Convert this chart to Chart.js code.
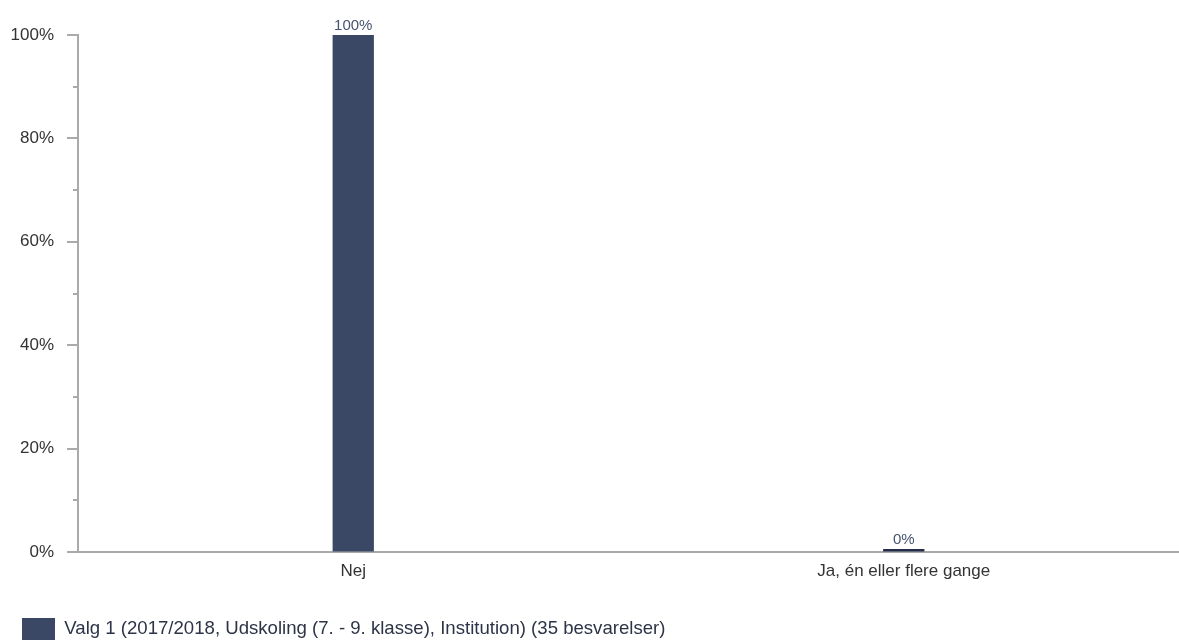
<!DOCTYPE html>
<html>
<head>
<meta charset="utf-8">
<script src="https://cdn.jsdelivr.net/npm/chart.js@4"></script>
<style>
  html, body { margin: 0; padding: 0; background: #fff; overflow: hidden; }
  #wrap { width: 1179px; height: 640px; position: relative; }
</style>
</head>
<body>
<div id="wrap"><canvas id="barChart"></canvas></div>
<script>
const categories = ["Nej", "Ja, én eller flere gange"];
const values = [100, 0];
const seriesLabel = "Valg 1 (2017/2018, Udskoling (7. - 9. klasse), Institution) (35 besvarelser)";
const yTicks = [0, 20, 40, 60, 80, 100];

Chart.defaults.font.family = "'Liberation Sans', Arial, sans-serif";

// small ticks on the y axis, long for labelled values, short in between
const axisTicks = {
  id: "axisTicks",
  afterDraw(chart) {
    const ctx = chart.ctx;
    const y = chart.scales.y;
    const left = chart.chartArea.left;
    ctx.save();
    ctx.strokeStyle = "#aaaaaa";
    ctx.lineWidth = 2;
    y.ticks.forEach((t) => {
      const py = Math.round(y.getPixelForValue(t.value));
      const len = yTicks.includes(t.value) ? 11 : 5;
      ctx.beginPath();
      ctx.moveTo(left - len, py);
      ctx.lineTo(left, py);
      ctx.stroke();
    });
    ctx.restore();
  },
};

// value labels above the bars
const barLabels = {
  id: "barLabels",
  afterDatasetsDraw(chart) {
    const ctx = chart.ctx;
    const meta = chart.getDatasetMeta(0);
    ctx.save();
    ctx.font = "15px 'Liberation Sans', Arial, sans-serif";
    ctx.fillStyle = "#46536f";
    ctx.textAlign = "center";
    ctx.textBaseline = "alphabetic";
    meta.data.forEach((bar, i) => {
      ctx.fillText(values[i] + "%", bar.x, bar.y - 5);
    });
    ctx.restore();
  },
};

new Chart("barChart", {
  type: "bar",
  data: {
    labels: categories,
    datasets: [
      {
        label: seriesLabel,
        data: values,
        backgroundColor: ["#3a4865", "#232e4a"],
        categoryPercentage: 1,
        barPercentage: 0.075,
        minBarLength: 3,
      },
    ],
  },
  options: {
    responsive: true,
    maintainAspectRatio: false,
    animation: false,
    layout: {
      padding: { top: 35, right: 0, left: 0, bottom: -10 },
    },
    plugins: {
      legend: {
        position: "bottom",
        align: "start",
        labels: {
          boxWidth: 33,
          boxHeight: 22,
          color: "#2e3447",
          font: { size: 18.6 },
          padding: 22,
        },
      },
      tooltip: { enabled: false },
    },
    scales: {
      x: {
        grid: { drawOnChartArea: false, drawTicks: false },
        border: { color: "#aaaaaa", width: 2 },
        ticks: { color: "#333", font: { size: 17 }, padding: 9 },
        afterFit(scale) {
          scale.height = 44;
        },
      },
      y: {
        min: 0,
        max: 100,
        grid: { drawOnChartArea: false, drawTicks: false },
        border: { color: "#aaaaaa", width: 2 },
        ticks: {
          stepSize: 10,
          color: "#333",
          font: { size: 17 },
          padding: 24,
          callback: (v) => (yTicks.includes(v) ? v + "%" : ""),
        },
        afterFit(scale) {
          scale.width = 78;
        },
      },
    },
  },
  plugins: [axisTicks, barLabels],
});
</script>
</body>
</html>
